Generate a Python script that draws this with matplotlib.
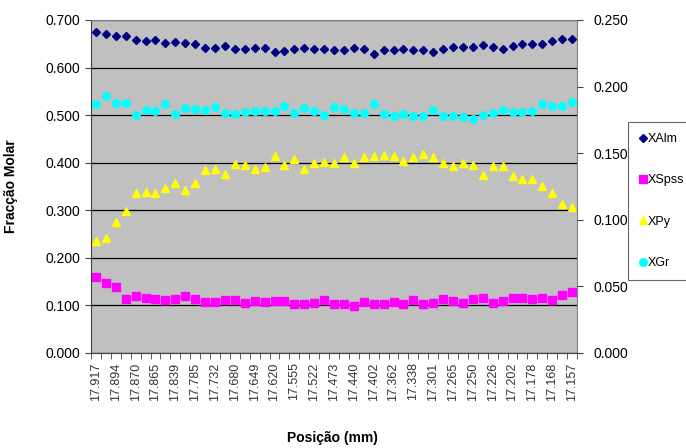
import numpy as np
import matplotlib
matplotlib.use('Agg')
import matplotlib.pyplot as plt

plt.rcParams['font.family'] = ['Liberation Sans', 'DejaVu Sans']

# posições (mm) - só as que aparecem no eixo, uma a cada duas medições
pos_labels = ['17.917', '17.894', '17.870', '17.865', '17.839', '17.785', '17.732',
              '17.680', '17.649', '17.620', '17.555', '17.522', '17.473', '17.440',
              '17.402', '17.362', '17.338', '17.301', '17.265', '17.250', '17.226',
              '17.202', '17.178', '17.168', '17.157']

x_alm = [0.674, 0.671, 0.666, 0.666, 0.658, 0.656, 0.658, 0.651, 0.653, 0.651,
         0.649, 0.642, 0.641, 0.646, 0.639, 0.640, 0.642, 0.642, 0.632, 0.634,
         0.639, 0.642, 0.639, 0.639, 0.637, 0.636, 0.642, 0.639, 0.629, 0.636,
         0.637, 0.640, 0.637, 0.636, 0.632, 0.639, 0.644, 0.644, 0.644, 0.647,
         0.644, 0.640, 0.646, 0.649, 0.649, 0.649, 0.656, 0.660, 0.660]

x_spss = [0.159, 0.146, 0.138, 0.114, 0.119, 0.116, 0.112, 0.111, 0.112, 0.119,
          0.112, 0.107, 0.107, 0.111, 0.111, 0.104, 0.109, 0.107, 0.109, 0.109,
          0.102, 0.102, 0.105, 0.111, 0.102, 0.102, 0.098, 0.106, 0.103, 0.103,
          0.106, 0.103, 0.110, 0.103, 0.105, 0.113, 0.109, 0.105, 0.112, 0.115,
          0.105, 0.109, 0.115, 0.115, 0.112, 0.115, 0.111, 0.122, 0.128]

x_py = [0.236, 0.241, 0.275, 0.298, 0.336, 0.338, 0.336, 0.347, 0.357, 0.343,
        0.358, 0.385, 0.386, 0.376, 0.397, 0.395, 0.386, 0.390, 0.413, 0.395,
        0.407, 0.386, 0.400, 0.401, 0.399, 0.411, 0.399, 0.411, 0.413, 0.416,
        0.413, 0.404, 0.411, 0.418, 0.412, 0.400, 0.392, 0.400, 0.395, 0.373,
        0.392, 0.393, 0.372, 0.365, 0.365, 0.351, 0.336, 0.312, 0.306]

x_gr = [0.523, 0.540, 0.526, 0.525, 0.500, 0.511, 0.509, 0.523, 0.502, 0.514,
        0.512, 0.511, 0.516, 0.505, 0.502, 0.507, 0.509, 0.509, 0.509, 0.519,
        0.505, 0.515, 0.509, 0.500, 0.516, 0.512, 0.505, 0.504, 0.523, 0.502,
        0.499, 0.502, 0.497, 0.499, 0.511, 0.497, 0.497, 0.496, 0.492, 0.500,
        0.504, 0.511, 0.507, 0.507, 0.509, 0.523, 0.519, 0.519, 0.528]

n = len(x_alm)
x = np.arange(n)

fig = plt.figure(figsize=(6.86, 4.48), dpi=100)
ax = fig.add_axes([0.1327, 0.2127, 0.7084, 0.7427])
ax.set_facecolor('#C0C0C0')

ax.plot(x, x_alm, 'D', color='#000080', ms=4.3, mec='#000080', label='XAlm')
ax.plot(x, x_spss, 's', color='#FF00FF', ms=5.2, mec='#FF00FF', label='XSpss')
ax.plot(x, x_py, '^', color='#FFFF00', ms=5.5, mec='#FFFF00', label='XPy')
ax.plot(x, x_gr, 'o', color='#00FFFF', ms=5.5, mec='#00FFFF', label='XGr')

# eixo y principal
ax.set_ylim(0, 0.7)
ax.set_yticks(np.arange(0, 0.71, 0.1))
ax.set_yticklabels([f'{v:.3f}' for v in np.arange(0, 0.71, 0.1)], fontsize=10)
ax.yaxis.grid(True, color='black', lw=0.9)
ax.set_axisbelow(True)
ax.tick_params(axis='y', direction='out', length=4, color='#404040', pad=4)

# eixo x por categorias
ax.set_xlim(-0.5, n - 0.5)
ax.set_xticks(x[::2])
ax.set_xticklabels(pos_labels, rotation=90, fontsize=9, color='#333333')
ax.set_xticks(np.arange(-0.5, n, 1), minor=True)
ax.tick_params(axis='x', which='major', length=0, pad=7)
ax.tick_params(axis='x', which='minor', direction='out', length=4, color='#404040')

for s in ax.spines.values():
    s.set_color('#808080')
ax.spines['left'].set_color('#404040')
ax.spines['bottom'].set_color('#404040')

fig.text(0.016, 0.585, 'Fracção Molar', fontsize=10, fontweight='bold',
         rotation=90, ha='center', va='center')
fig.text(0.484, 0.022, 'Posição (mm)', fontsize=10, fontweight='bold',
         ha='center', va='center')

# eixo secundário
ax2 = ax.twinx()
ax2.set_ylim(0, 0.25)
ax2.set_yticks(np.arange(0, 0.251, 0.05))
ax2.set_yticklabels([f'{v:.3f}' for v in np.arange(0, 0.251, 0.05)], fontsize=10)
ax2.tick_params(axis='y', direction='out', length=4, color='#404040', pad=8)
for s in ax2.spines.values():
    s.set_visible(False)

leg = ax.legend(loc='center left', bbox_to_anchor=(1.105, 0.456), fontsize=9,
                frameon=True, fancybox=False, edgecolor='#404040',
                handlelength=0.6, handletextpad=0.1, labelspacing=2.35,
                borderpad=0.9, borderaxespad=0)
leg.get_frame().set_linewidth(0.8)

fig.savefig('out.png', dpi=100)
